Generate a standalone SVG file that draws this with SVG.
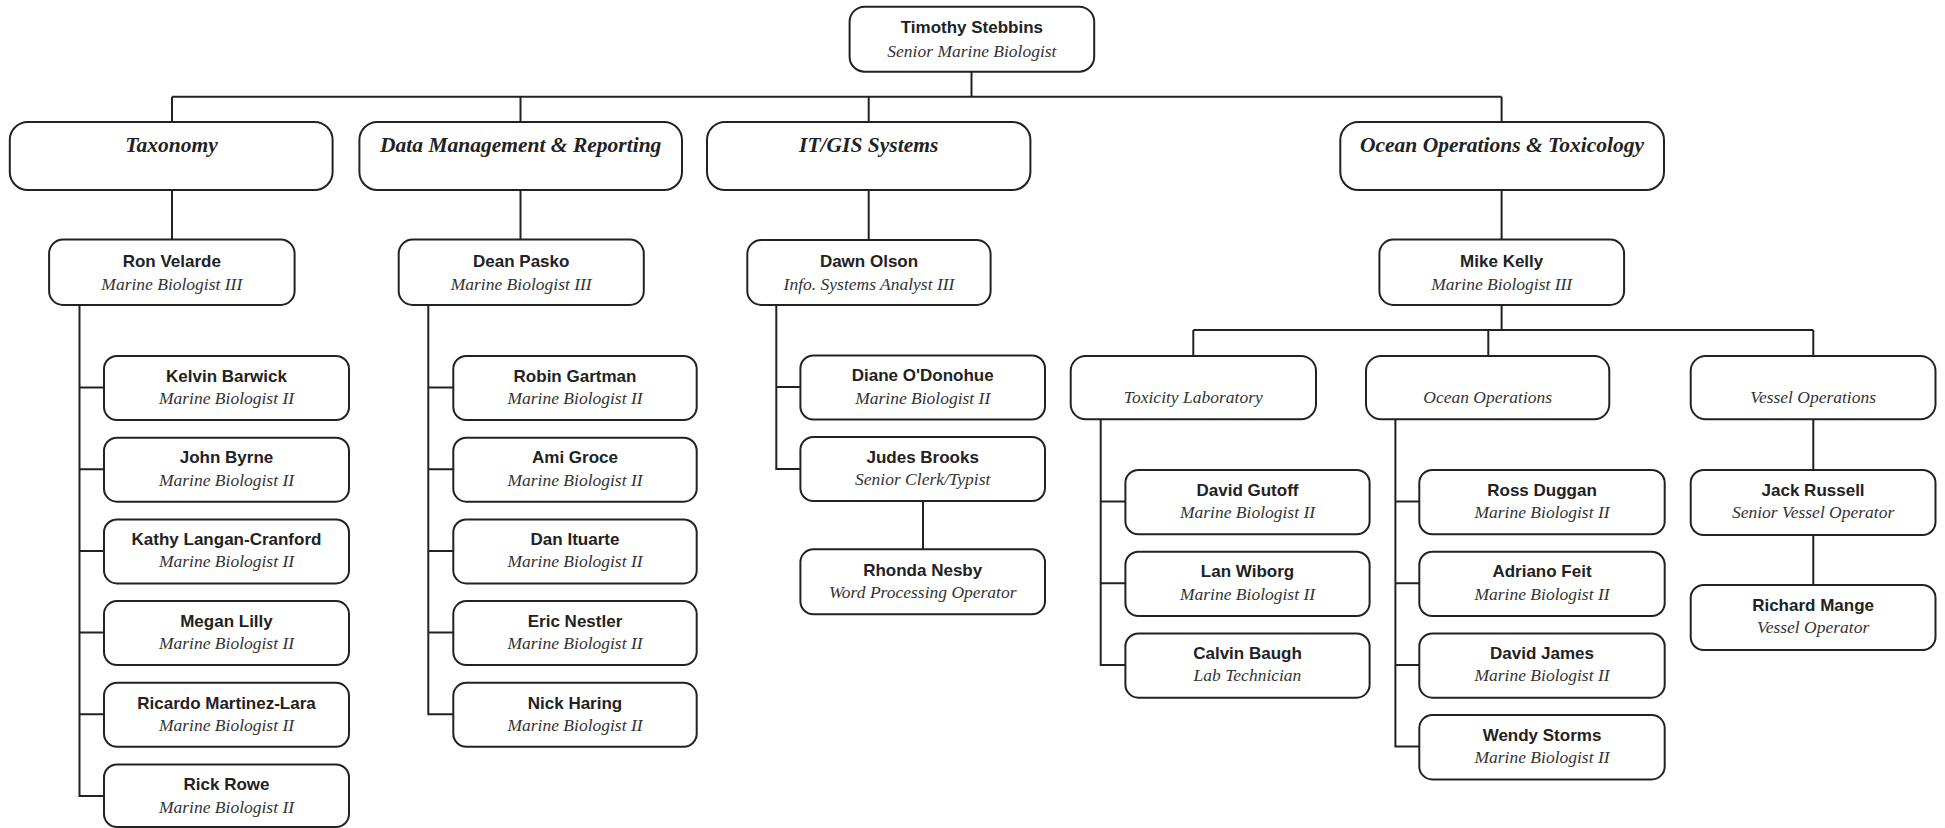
<svg xmlns="http://www.w3.org/2000/svg" width="1945" height="828" viewBox="0 0 1945 828">
<style>
.bx{fill:#fff;stroke:#222;stroke-width:2}
.ln{fill:none;stroke:#222;stroke-width:2}
.nm{font-family:"Liberation Sans",Arial,sans-serif;font-weight:bold;font-size:17px;fill:#222;text-anchor:middle}
.tt{font-family:"Liberation Serif","Times New Roman",serif;font-style:italic;font-size:17.5px;fill:#333;text-anchor:middle}
.dp{font-family:"Liberation Serif","Times New Roman",serif;font-style:italic;font-weight:bold;font-size:21.5px;fill:#222;text-anchor:middle}
</style>
<rect width="1945" height="828" fill="#fff"/>
<g id="connectors" class="ln">
<path d="M971.5 71.5V96.7M172 96.7H1501.6M172 96.7V122M520.5 96.7V122M868.7 96.7V122M1501.6 96.7V122"/>
<path d="M172 190V239.5M520.5 190V239.5M868.7 190V240M1501.6 190V239.5"/>
<path d="M79.5 305V796H104M79.5 387.5H104M79.5 469.2H104M79.5 550.9H104M79.5 632.6H104M79.5 714.3H104"/>
<path d="M428.3 305V714.3H453.3M428.3 387.5H453.3M428.3 469.2H453.3M428.3 550.9H453.3M428.3 632.6H453.3"/>
<path d="M776.3 305V469H800.4M776.3 387H800.4M923 501V549.3"/>
<path d="M1501.6 305V330M1193.3 330H1813.3M1193.3 330V356M1488.3 330V356M1813.3 330V356"/>
<path d="M1100.7 419.3V665H1125.4M1100.7 501.5H1125.4M1100.7 583.2H1125.4"/>
<path d="M1395.4 419.3V746.6H1419.3M1395.4 501.5H1419.3M1395.4 583.2H1419.3M1395.4 664.9H1419.3"/>
<path d="M1813.3 419.3V470M1813.3 535V585"/>
</g>
<g id="timothy"><rect class="bx" x="849.6" y="6.7" width="244.6" height="65" rx="15"/><text class="nm" x="971.9" y="33.3">Timothy Stebbins</text><text class="tt" x="971.9" y="56.7">Senior Marine Biologist</text></g>
<g id="taxonomy"><rect class="bx" x="9.8" y="122" width="322.8" height="68" rx="18"/><text class="dp" x="171.5" y="152">Taxonomy</text></g>
<g id="datamgmt"><rect class="bx" x="359.4" y="122" width="322.6" height="68" rx="18"/><text class="dp" x="520.7" y="152">Data Management &amp; Reporting</text></g>
<g id="itgis"><rect class="bx" x="707" y="122" width="323.4" height="68" rx="18"/><text class="dp" x="868.7" y="152">IT/GIS Systems</text></g>
<g id="oceantox"><rect class="bx" x="1340.3" y="122" width="323.7" height="68" rx="18"/><text class="dp" x="1502" y="152">Ocean Operations &amp; Toxicology</text></g>
<g id="ron"><rect class="bx" x="49.1" y="239.5" width="245.5" height="65.5" rx="14"/><text class="nm" x="171.8" y="266.5">Ron Velarde</text><text class="tt" x="171.8" y="290">Marine Biologist III</text></g>
<g id="dean"><rect class="bx" x="398.7" y="239.5" width="245.1" height="65.5" rx="14"/><text class="nm" x="521.2" y="266.5">Dean Pasko</text><text class="tt" x="521.2" y="290">Marine Biologist III</text></g>
<g id="dawn"><rect class="bx" x="747.3" y="240" width="243.3" height="65" rx="14"/><text class="nm" x="869" y="266.5">Dawn Olson</text><text class="tt" x="869" y="290">Info. Systems Analyst III</text></g>
<g id="mike"><rect class="bx" x="1379.4" y="239.5" width="244.7" height="65.5" rx="14"/><text class="nm" x="1501.7" y="266.5">Mike Kelly</text><text class="tt" x="1501.7" y="290">Marine Biologist III</text></g>
<g id="kelvin"><rect class="bx" x="104" y="356" width="245" height="64" rx="13"/><text class="nm" x="226.5" y="381.7">Kelvin Barwick</text><text class="tt" x="226.5" y="404">Marine Biologist II</text></g>
<g id="john"><rect class="bx" x="104" y="437.7" width="245" height="64" rx="13"/><text class="nm" x="226.5" y="463.4">John Byrne</text><text class="tt" x="226.5" y="485.7">Marine Biologist II</text></g>
<g id="kathy"><rect class="bx" x="104" y="519.4" width="245" height="64" rx="13"/><text class="nm" x="226.5" y="545.1">Kathy Langan-Cranford</text><text class="tt" x="226.5" y="567.4">Marine Biologist II</text></g>
<g id="megan"><rect class="bx" x="104" y="601.1" width="245" height="64" rx="13"/><text class="nm" x="226.5" y="626.8">Megan Lilly</text><text class="tt" x="226.5" y="649.1">Marine Biologist II</text></g>
<g id="ricardo"><rect class="bx" x="104" y="682.8" width="245" height="64" rx="13"/><text class="nm" x="226.5" y="708.5">Ricardo Martinez-Lara</text><text class="tt" x="226.5" y="730.8">Marine Biologist II</text></g>
<g id="rick"><rect class="bx" x="104" y="764.5" width="245" height="62.5" rx="13"/><text class="nm" x="226.5" y="790.2">Rick Rowe</text><text class="tt" x="226.5" y="812.5">Marine Biologist II</text></g>
<g id="robin"><rect class="bx" x="453.3" y="356" width="243.4" height="64" rx="13"/><text class="nm" x="575" y="381.7">Robin Gartman</text><text class="tt" x="575" y="404">Marine Biologist II</text></g>
<g id="ami"><rect class="bx" x="453.3" y="437.7" width="243.4" height="64" rx="13"/><text class="nm" x="575" y="463.4">Ami Groce</text><text class="tt" x="575" y="485.7">Marine Biologist II</text></g>
<g id="dan"><rect class="bx" x="453.3" y="519.4" width="243.4" height="64" rx="13"/><text class="nm" x="575" y="545.1">Dan Ituarte</text><text class="tt" x="575" y="567.4">Marine Biologist II</text></g>
<g id="eric"><rect class="bx" x="453.3" y="601.1" width="243.4" height="64" rx="13"/><text class="nm" x="575" y="626.8">Eric Nestler</text><text class="tt" x="575" y="649.1">Marine Biologist II</text></g>
<g id="nick"><rect class="bx" x="453.3" y="682.8" width="243.4" height="64" rx="13"/><text class="nm" x="575" y="708.5">Nick Haring</text><text class="tt" x="575" y="730.8">Marine Biologist II</text></g>
<g id="diane"><rect class="bx" x="800.4" y="355.5" width="244.6" height="64" rx="13"/><text class="nm" x="922.7" y="381.2">Diane O'Donohue</text><text class="tt" x="922.7" y="403.5">Marine Biologist II</text></g>
<g id="judes"><rect class="bx" x="800.4" y="437" width="244.6" height="64" rx="13"/><text class="nm" x="922.7" y="462.7">Judes Brooks</text><text class="tt" x="922.7" y="485">Senior Clerk/Typist</text></g>
<g id="rhonda"><rect class="bx" x="800.4" y="549.3" width="244.6" height="65" rx="13"/><text class="nm" x="922.7" y="575.5">Rhonda Nesby</text><text class="tt" x="922.7" y="598">Word Processing Operator</text></g>
<g id="toxlab"><rect class="bx" x="1070.7" y="356" width="245.3" height="63.3" rx="15"/><text class="tt" x="1193.3" y="403.3">Toxicity Laboratory</text></g>
<g id="oceanops"><rect class="bx" x="1366" y="356" width="243.3" height="63.3" rx="15"/><text class="tt" x="1487.7" y="403.3">Ocean Operations</text></g>
<g id="vesselops"><rect class="bx" x="1690.7" y="356" width="244.8" height="63.3" rx="15"/><text class="tt" x="1813.1" y="403.3">Vessel Operations</text></g>
<g id="gutoff"><rect class="bx" x="1125.4" y="470" width="244.2" height="64.3" rx="13"/><text class="nm" x="1247.5" y="495.7">David Gutoff</text><text class="tt" x="1247.5" y="518">Marine Biologist II</text></g>
<g id="lan"><rect class="bx" x="1125.4" y="551.7" width="244.2" height="64.3" rx="13"/><text class="nm" x="1247.5" y="577.4">Lan Wiborg</text><text class="tt" x="1247.5" y="599.7">Marine Biologist II</text></g>
<g id="calvin"><rect class="bx" x="1125.4" y="633.4" width="244.2" height="64.3" rx="13"/><text class="nm" x="1247.5" y="659.1">Calvin Baugh</text><text class="tt" x="1247.5" y="681.4">Lab Technician</text></g>
<g id="ross"><rect class="bx" x="1419.3" y="470" width="245.4" height="64.3" rx="13"/><text class="nm" x="1542" y="495.7">Ross Duggan</text><text class="tt" x="1542" y="518">Marine Biologist II</text></g>
<g id="adriano"><rect class="bx" x="1419.3" y="551.7" width="245.4" height="64.3" rx="13"/><text class="nm" x="1542" y="577.4">Adriano Feit</text><text class="tt" x="1542" y="599.7">Marine Biologist II</text></g>
<g id="davidjames"><rect class="bx" x="1419.3" y="633.4" width="245.4" height="64.3" rx="13"/><text class="nm" x="1542" y="659.1">David James</text><text class="tt" x="1542" y="681.4">Marine Biologist II</text></g>
<g id="wendy"><rect class="bx" x="1419.3" y="715.1" width="245.4" height="64.3" rx="13"/><text class="nm" x="1542" y="740.8">Wendy Storms</text><text class="tt" x="1542" y="763.1">Marine Biologist II</text></g>
<g id="jack"><rect class="bx" x="1690.7" y="470" width="244.8" height="65" rx="13"/><text class="nm" x="1813.1" y="495.7">Jack Russell</text><text class="tt" x="1813.1" y="518">Senior Vessel Operator</text></g>
<g id="richard"><rect class="bx" x="1690.7" y="585" width="244.8" height="65" rx="13"/><text class="nm" x="1813.1" y="610.7">Richard Mange</text><text class="tt" x="1813.1" y="633">Vessel Operator</text></g>
</svg>
